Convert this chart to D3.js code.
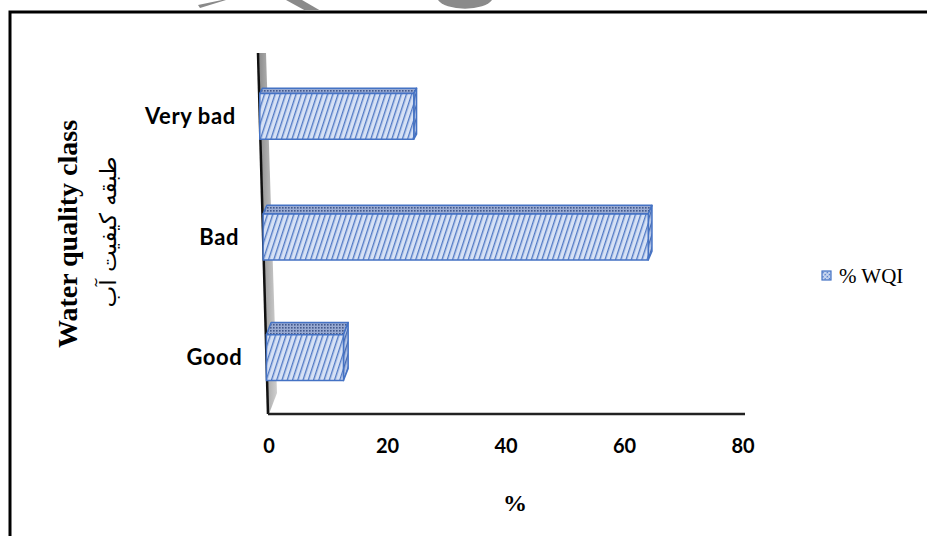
<!DOCTYPE html>
<html><head><meta charset="utf-8">
<script src="https://cdn.jsdelivr.net/npm/d3@7"></script>
<style>html,body{margin:0;padding:0;background:#fff;}svg{display:block;}</style>
</head><body>
<svg id="c" width="927" height="536"></svg>
<script>
// ---- data ----
const categories = ["Very bad", "Bad", "Good"];
const wqiPercent = [25, 62.5, 12.5];
const xTicks = [0, 20, 40, 60, 80];
const seriesName = "% WQI";
const yTitle = "Water quality class";
const yTitleFa = "طبقه کیفیت آب";
const xTitle = "%";

const svg = d3.select("#c");
const defs = svg.append("defs");

// patterns
const hatch = defs.append("pattern").attr("id","hatch").attr("patternUnits","userSpaceOnUse")
  .attr("width",5).attr("height",5).attr("patternTransform","rotate(18)");
hatch.append("rect").attr("width",5).attr("height",5).attr("fill","#d6e1f5");
hatch.append("line").attr("x1",0.7).attr("y1",0).attr("x2",0.7).attr("y2",5).attr("stroke","#4a74c2").attr("stroke-width",1.3);

const hatchDark = defs.append("pattern").attr("id","hatchDark").attr("patternUnits","userSpaceOnUse")
  .attr("width",4).attr("height",4).attr("patternTransform","rotate(18)");
hatchDark.append("rect").attr("width",4).attr("height",4).attr("fill","#b4c5e6");
hatchDark.append("line").attr("x1",0.7).attr("y1",0).attr("x2",0.7).attr("y2",4).attr("stroke","#3c62ad").attr("stroke-width",1.3);

const dots = defs.append("pattern").attr("id","dots").attr("patternUnits","userSpaceOnUse")
  .attr("width",3).attr("height",3);
dots.append("rect").attr("width",3).attr("height",3).attr("fill","#98aad2");
dots.append("rect").attr("width",1.6).attr("height",1.6).attr("fill","#43598c");

const legendPat = defs.append("pattern").attr("id","legPat").attr("patternUnits","userSpaceOnUse")
  .attr("width",3).attr("height",3).attr("patternTransform","rotate(45)");
legendPat.append("rect").attr("width",3).attr("height",3).attr("fill","#c9d7f0");
legendPat.append("rect").attr("width",1.4).attr("height",1.4).attr("fill","#4472c4");

const wallGrad = defs.append("linearGradient").attr("id","wallG").attr("x1","0").attr("x2","1");
wallGrad.append("stop").attr("offset","0").attr("stop-color","#8c8c8c");
wallGrad.append("stop").attr("offset","1").attr("stop-color","#d0d0d0");

// frame
svg.append("path").attr("d","M10,536 L10,12 L927,12").attr("fill","none").attr("stroke","#000").attr("stroke-width",3);

// watermark fragments at top
svg.append("path").attr("d","M198,5 L222,0 L226,0 L200,8 Z").attr("fill","#8a8a8a");
svg.append("path").attr("d","M286,0 L302,0 L321,11 L306,11 Z").attr("fill","#8a8a8a");
svg.append("path").attr("d","M438,0 A28,12 0 0 0 492,0 Z").attr("fill","#8a8a8a");

// scales
const x = d3.scaleLinear().domain([0,80]).range([269,743]);
const barLen = d3.scaleLinear().domain([0,80]).range([0,493]);
const y = d3.scaleBand().domain(categories).range([56,418]).paddingInner(0.62).paddingOuter(0.31);

const wallTop = [258,53], wallBot = [268,414];
const wallX = yy => wallTop[0] + (yy - wallTop[1]) * (wallBot[0]-wallTop[0])/(wallBot[1]-wallTop[1]);

// wall
svg.append("path").attr("d",`M259,53 L266,53 L277,393 L269,414 L268,414 Z`).attr("fill","url(#wallG)");
svg.append("line").attr("x1",wallTop[0]).attr("y1",wallTop[1]).attr("x2",wallBot[0]).attr("y2",wallBot[1])
  .attr("stroke","#111").attr("stroke-width",2.5);
// floor baseline
svg.append("line").attr("x1",268).attr("y1",414).attr("x2",745).attr("y2",414).attr("stroke","#222").attr("stroke-width",2.5);

// bars
const bars = svg.append("g");
categories.forEach((c,i) => {
  const v = wqiPercent[i];
  const y0 = y(c), h = y.bandwidth(), y1 = y0 + h;
  const xl = wallX(y0 + h/2);
  const xr = xl + barLen(v);
  const dep = 2.5 + 0.029*y0;
  const dx = 2 + 0.008*y0;
  const g = bars.append("g").attr("stroke","#4472c4").attr("stroke-width",1.5).attr("stroke-linejoin","round");
  // top face
  g.append("path").attr("d",`M${xl},${y0} L${xl+dx},${y0-dep} L${xr+dx},${y0-dep} L${xr},${y0} Z`).attr("fill","url(#dots)");
  // side face
  g.append("path").attr("d",`M${xr},${y0} L${xr+dx},${y0-dep} L${xr+dx},${y1-dep} L${xr},${y1} Z`).attr("fill","url(#hatchDark)");
  // front face
  g.append("rect").attr("x",xl).attr("y",y0).attr("width",xr-xl).attr("height",h).attr("fill","url(#hatch)");
  // category label
  svg.append("text").attr("x",xl-24).attr("y",y0+h/2).attr("dy","0.35em").attr("text-anchor","end")
    .attr("font-family","Lato, 'Open Sans', sans-serif").attr("font-weight","bold").attr("font-size",22)
    .attr("letter-spacing","0.6px")
    .attr("fill","#000").text(c);
});

// x tick labels
svg.append("g").selectAll("text").data(xTicks).join("text")
  .attr("x",d=>x(d)).attr("y",446).attr("dy","0.35em").attr("text-anchor","middle")
  .attr("font-family","Lato, 'Open Sans', sans-serif").attr("font-weight","bold").attr("font-size",20)
  .attr("fill","#000").text(d=>d);

// axis titles
svg.append("text").attr("transform","translate(77,234) rotate(-90)").attr("text-anchor","middle")
  .attr("font-family","'Liberation Serif', 'Times New Roman', serif").attr("font-weight","bold").attr("font-size",28)
  .attr("fill","#000").text(yTitle);
svg.append("text").attr("transform","translate(116,232) rotate(-90)").attr("text-anchor","middle").attr("direction","rtl")
  .attr("font-family","'DejaVu Sans', 'Noto Sans', sans-serif").attr("font-size",23)
  .attr("fill","#000").text(yTitleFa);
svg.append("text").attr("x",515).attr("y",511).attr("text-anchor","middle")
  .attr("font-family","'Liberation Serif', 'Times New Roman', serif").attr("font-weight","bold").attr("font-size",24)
  .attr("fill","#000").text(xTitle);

// legend
svg.append("rect").attr("x",822).attr("y",271).attr("width",9).attr("height",9)
  .attr("fill","url(#legPat)").attr("stroke","#4472c4").attr("stroke-width",1.2);
svg.append("text").attr("x",839).attr("y",283)
  .attr("font-family","'Liberation Serif', 'Times New Roman', serif").attr("font-size",21)
  .attr("fill","#000").text(seriesName);
</script>
</body></html>
